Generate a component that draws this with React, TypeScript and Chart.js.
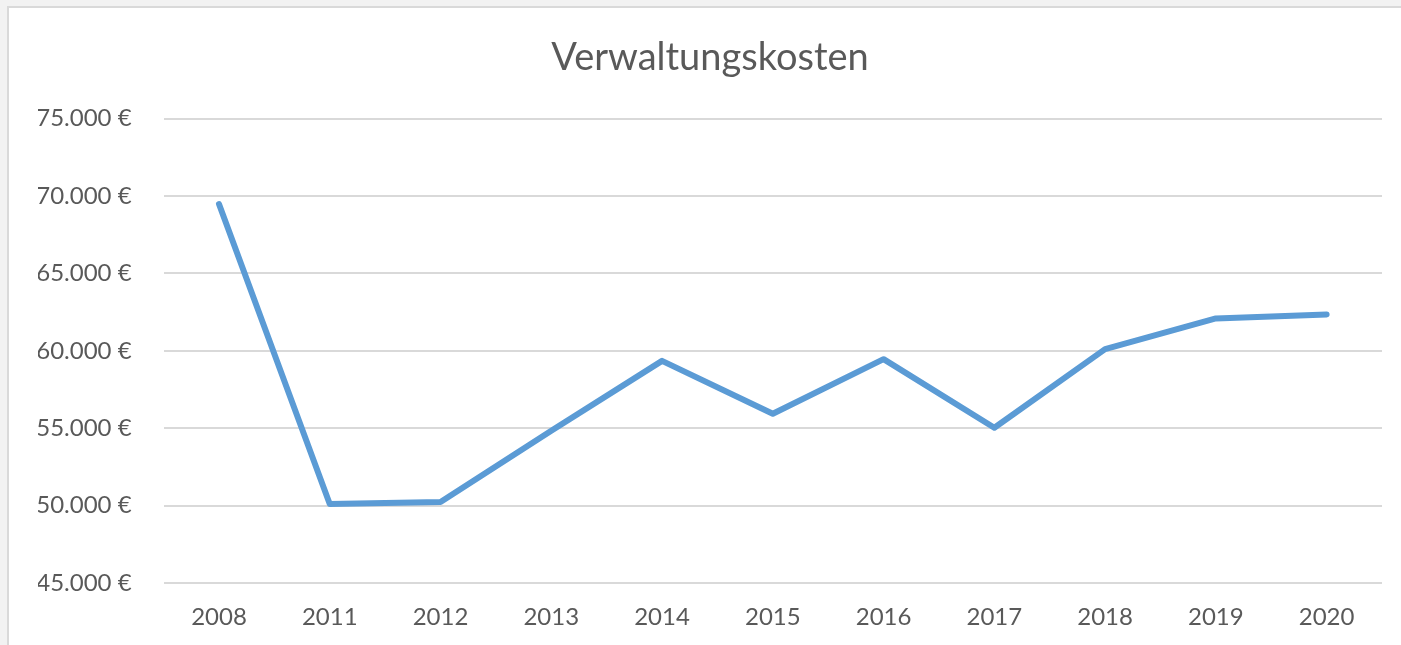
import React, { useEffect, useRef } from "react";
import { Chart, registerables } from "chart.js";

Chart.register(...registerables);

const chartTitle = "Verwaltungskosten";
const years = ["2008", "2011", "2012", "2013", "2014", "2015", "2016", "2017", "2018", "2019", "2020"];
const costs = [69480, 50100, 50230, 54830, 59350, 55930, 59460, 55030, 60110, 62090, 62350];
const yMin = 45000;
const yMax = 75000;
const yStep = 5000;

const formatEuro = (v: number) =>
  String(Math.round(v)).replace(/\B(?=(\d{3})+(?!\d))/g, ".") + " €";

const TEXT = "#595959";
const FONT = "Lato, 'Open Sans', sans-serif";

export default function App() {
  const ref = useRef<HTMLCanvasElement>(null);

  useEffect(() => {
    if (!ref.current) return;
    const chart = new Chart(ref.current, {
      type: "line",
      data: {
        labels: years,
        datasets: [
          {
            data: costs,
            borderColor: "#5B9BD5",
            backgroundColor: "#5B9BD5",
            borderWidth: 6,
            pointRadius: 0,
            borderCapStyle: "round",
            borderJoinStyle: "round",
            tension: 0,
            fill: false,
          },
        ],
      },
      options: {
        animation: false,
        responsive: false,
        devicePixelRatio: 1,
        layout: { padding: { left: 38, right: 19, top: 0, bottom: 0 } },
        plugins: {
          legend: { display: false },
          tooltip: { enabled: false },
          title: {
            display: true,
            text: chartTitle,
            color: TEXT,
            font: { family: FONT, size: 38, weight: "normal", lineHeight: 1.2 },
            padding: { top: 35, bottom: 38 },
          },
        },
        scales: {
          x: {
            offset: true,
            grid: { display: false, drawTicks: false },
            border: { display: false },
            ticks: {
              color: TEXT,
              font: { family: FONT, size: 24 },
              padding: 20,
              maxRotation: 0,
              autoSkip: false,
            },
            afterFit: (s: any) => {
              s.height = 62;
            },
          },
          y: {
            min: yMin,
            max: yMax,
            grid: { color: "#D9D9D9", lineWidth: 2, drawTicks: false },
            border: { display: false },
            ticks: {
              stepSize: yStep,
              color: TEXT,
              font: { family: FONT, size: 24 },
              padding: 32,
              callback: (v: any) => formatEuro(Number(v)),
            },
            afterFit: (s: any) => {
              s.width = 125.6;
            },
          },
        },
      },
    } as any);
    return () => chart.destroy();
  }, []);

  return (
    <div style={{ position: "fixed", left: 0, top: 0, width: 1401, height: 645, background: "#F2F2F2", overflow: "hidden" }}>
      <div
        style={{
          position: "absolute",
          left: 7,
          top: 6,
          width: 1420,
          height: 660,
          background: "#FFFFFF",
          borderLeft: "2px solid #D9D9D9",
          borderTop: "2px solid #D9D9D9",
        }}
      />
      <canvas ref={ref} width={1401} height={645} style={{ position: "absolute", left: 0, top: 0, width: 1401, height: 645, display: "block" }} />
    </div>
  );
}
